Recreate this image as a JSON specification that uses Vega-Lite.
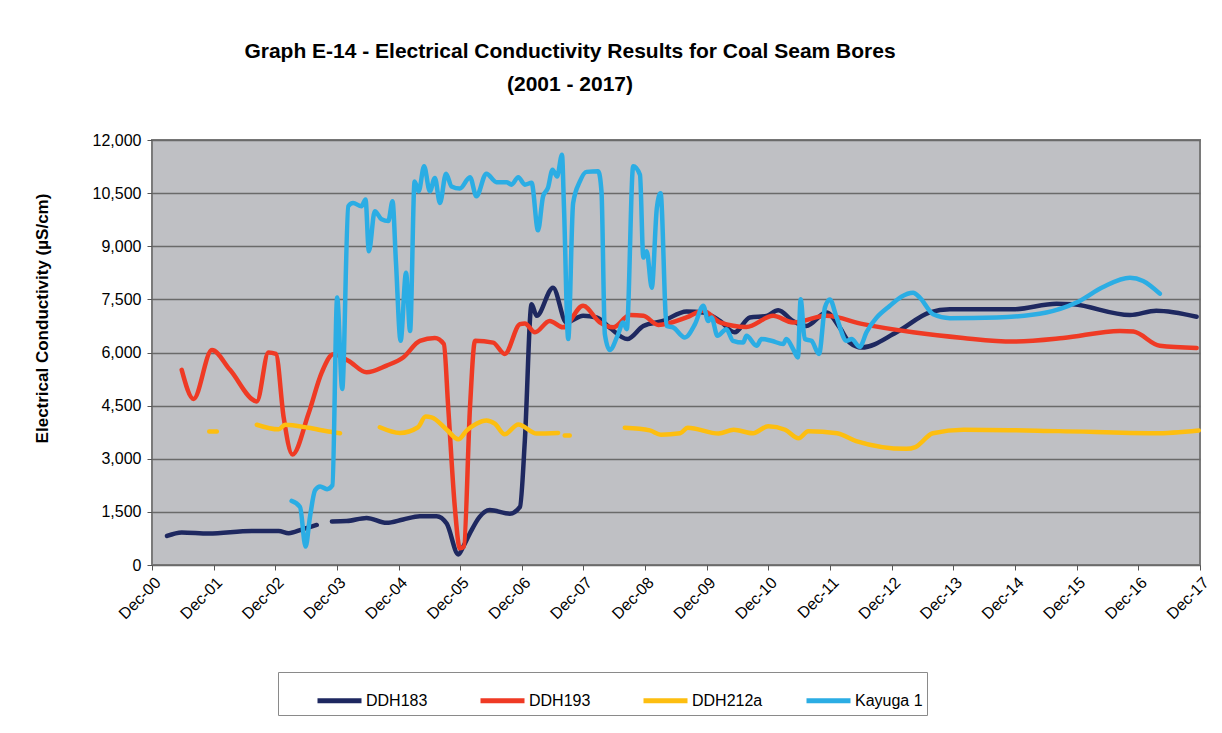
{
  "$schema": "https://vega.github.io/schema/vega-lite/v6.json",
  "autosize": {"type": "none"},
  "width": 1048,
  "height": 425,
  "padding": {"left": 152, "top": 140, "right": 22, "bottom": 168},
  "background": "white",
  "title": {
    "text": ["Graph E-14 -  Electrical Conductivity Results for Coal Seam Bores", "(2001 - 2017)"],
    "font": "Liberation Sans, Arial, sans-serif",
    "fontSize": 21,
    "fontWeight": "bold",
    "color": "#000000",
    "anchor": "middle",
    "dx": -106,
    "offset": 37,
    "lineHeight": 33
  },
  "config": {
    "view": {"fill": "#BFC0C4", "stroke": "#7a7a7a", "strokeWidth": 2},
    "font": "Liberation Sans, Arial, sans-serif"
  },
  "data": {"values": [
    {"bore": "DDH183", "date": "2001-02-28", "ec": 820},
    {"bore": "DDH183", "date": "2001-05-26", "ec": 920},
    {"bore": "DDH183", "date": "2001-11-02", "ec": 890},
    {"bore": "DDH183", "date": "2002-07-15", "ec": 960},
    {"bore": "DDH183", "date": "2002-12-21", "ec": 960},
    {"bore": "DDH183", "date": "2003-02-19", "ec": 900},
    {"bore": "DDH183", "date": "2003-05-07", "ec": 1000},
    {"bore": "DDH183", "date": "2003-08-04", "ec": 1130},
    {"bore": "DDH183", "date": "2003-09-20", "ec": null},
    {"bore": "DDH183", "date": "2003-11-02", "ec": 1230},
    {"bore": "DDH183", "date": "2004-01-28", "ec": 1240},
    {"bore": "DDH183", "date": "2004-05-25", "ec": 1330},
    {"bore": "DDH183", "date": "2004-09-21", "ec": 1190},
    {"bore": "DDH183", "date": "2004-12-28", "ec": 1285},
    {"bore": "DDH183", "date": "2005-04-06", "ec": 1380},
    {"bore": "DDH183", "date": "2005-07-14", "ec": 1380},
    {"bore": "DDH183", "date": "2005-09-12", "ec": 1170},
    {"bore": "DDH183", "date": "2005-11-20", "ec": 300},
    {"bore": "DDH183", "date": "2005-12-19", "ec": 520},
    {"bore": "DDH183", "date": "2006-01-28", "ec": 900},
    {"bore": "DDH183", "date": "2006-03-26", "ec": 1360},
    {"bore": "DDH183", "date": "2006-05-25", "ec": 1550},
    {"bore": "DDH183", "date": "2006-09-21", "ec": 1450},
    {"bore": "DDH183", "date": "2006-11-20", "ec": 1640},
    {"bore": "DDH183", "date": "2006-12-19", "ec": 3520},
    {"bore": "DDH183", "date": "2007-01-28", "ec": 7360},
    {"bore": "DDH183", "date": "2007-02-27", "ec": 7035},
    {"bore": "DDH183", "date": "2007-06-04", "ec": 7830},
    {"bore": "DDH183", "date": "2007-08-22", "ec": 6850},
    {"bore": "DDH183", "date": "2007-11-29", "ec": 7035},
    {"bore": "DDH183", "date": "2008-02-17", "ec": 6990},
    {"bore": "DDH183", "date": "2008-05-05", "ec": 6700},
    {"bore": "DDH183", "date": "2008-08-17", "ec": 6380},
    {"bore": "DDH183", "date": "2008-11-20", "ec": 6750},
    {"bore": "DDH183", "date": "2009-03-16", "ec": 6890},
    {"bore": "DDH183", "date": "2009-08-03", "ec": 7160},
    {"bore": "DDH183", "date": "2009-11-10", "ec": 7130},
    {"bore": "DDH183", "date": "2010-02-17", "ec": 6890},
    {"bore": "DDH183", "date": "2010-05-15", "ec": 6570},
    {"bore": "DDH183", "date": "2010-08-13", "ec": 6990},
    {"bore": "DDH183", "date": "2010-11-20", "ec": 7035},
    {"bore": "DDH183", "date": "2011-01-28", "ec": 7195},
    {"bore": "DDH183", "date": "2011-04-26", "ec": 6890},
    {"bore": "DDH183", "date": "2011-07-14", "ec": 6750},
    {"bore": "DDH183", "date": "2011-11-10", "ec": 7130},
    {"bore": "DDH183", "date": "2012-01-28", "ec": 6700},
    {"bore": "DDH183", "date": "2012-03-26", "ec": 6280},
    {"bore": "DDH183", "date": "2012-06-05", "ec": 6140},
    {"bore": "DDH183", "date": "2012-12-29", "ec": 6570},
    {"bore": "DDH183", "date": "2013-07-14", "ec": 7130},
    {"bore": "DDH183", "date": "2013-11-10", "ec": 7220},
    {"bore": "DDH183", "date": "2014-11-20", "ec": 7220},
    {"bore": "DDH183", "date": "2015-08-04", "ec": 7380},
    {"bore": "DDH183", "date": "2015-11-10", "ec": 7360},
    {"bore": "DDH183", "date": "2016-10-12", "ec": 7060},
    {"bore": "DDH183", "date": "2017-03-17", "ec": 7180},
    {"bore": "DDH183", "date": "2017-11-11", "ec": 7010},

    {"bore": "DDH193", "date": "2001-05-26", "ec": 5510},
    {"bore": "DDH193", "date": "2001-08-04", "ec": 4690},
    {"bore": "DDH193", "date": "2001-11-21", "ec": 6070},
    {"bore": "DDH193", "date": "2002-03-08", "ec": 5510},
    {"bore": "DDH193", "date": "2002-08-14", "ec": 4620},
    {"bore": "DDH193", "date": "2002-10-22", "ec": 6000},
    {"bore": "DDH193", "date": "2002-12-05", "ec": 5960},
    {"bore": "DDH193", "date": "2003-01-20", "ec": 4170},
    {"bore": "DDH193", "date": "2003-03-13", "ec": 3120},
    {"bore": "DDH193", "date": "2003-06-16", "ec": 4270},
    {"bore": "DDH193", "date": "2003-09-03", "ec": 5440},
    {"bore": "DDH193", "date": "2003-11-10", "ec": 5950},
    {"bore": "DDH193", "date": "2004-02-07", "ec": 5770},
    {"bore": "DDH193", "date": "2004-05-25", "ec": 5440},
    {"bore": "DDH193", "date": "2004-09-21", "ec": 5630},
    {"bore": "DDH193", "date": "2004-12-28", "ec": 5860},
    {"bore": "DDH193", "date": "2005-04-06", "ec": 6330},
    {"bore": "DDH193", "date": "2005-07-04", "ec": 6410},
    {"bore": "DDH193", "date": "2005-08-26", "ec": 6240},
    {"bore": "DDH193", "date": "2005-09-21", "ec": 4450},
    {"bore": "DDH193", "date": "2005-10-30", "ec": 1640},
    {"bore": "DDH193", "date": "2005-11-29", "ec": 470},
    {"bore": "DDH193", "date": "2005-12-23", "ec": 520},
    {"bore": "DDH193", "date": "2006-01-28", "ec": 4450},
    {"bore": "DDH193", "date": "2006-02-27", "ec": 6330},
    {"bore": "DDH193", "date": "2006-06-14", "ec": 6280},
    {"bore": "DDH193", "date": "2006-08-22", "ec": 5960},
    {"bore": "DDH193", "date": "2006-11-20", "ec": 6800},
    {"bore": "DDH193", "date": "2006-12-19", "ec": 6820},
    {"bore": "DDH193", "date": "2007-02-17", "ec": 6570},
    {"bore": "DDH193", "date": "2007-05-15", "ec": 6890},
    {"bore": "DDH193", "date": "2007-08-02", "ec": 6710},
    {"bore": "DDH193", "date": "2007-11-29", "ec": 7320},
    {"bore": "DDH193", "date": "2008-03-07", "ec": 6850},
    {"bore": "DDH193", "date": "2008-05-25", "ec": 6710},
    {"bore": "DDH193", "date": "2008-09-02", "ec": 7060},
    {"bore": "DDH193", "date": "2008-11-20", "ec": 7035},
    {"bore": "DDH193", "date": "2009-02-17", "ec": 6780},
    {"bore": "DDH193", "date": "2009-08-03", "ec": 6990},
    {"bore": "DDH193", "date": "2009-11-10", "ec": 7180},
    {"bore": "DDH193", "date": "2010-02-17", "ec": 6850},
    {"bore": "DDH193", "date": "2010-07-24", "ec": 6720},
    {"bore": "DDH193", "date": "2010-12-29", "ec": 7035},
    {"bore": "DDH193", "date": "2011-04-26", "ec": 6850},
    {"bore": "DDH193", "date": "2011-11-10", "ec": 7035},
    {"bore": "DDH193", "date": "2012-06-14", "ec": 6800},
    {"bore": "DDH193", "date": "2013-04-06", "ec": 6570},
    {"bore": "DDH193", "date": "2014-01-28", "ec": 6410},
    {"bore": "DDH193", "date": "2014-11-20", "ec": 6310},
    {"bore": "DDH193", "date": "2015-09-12", "ec": 6410},
    {"bore": "DDH193", "date": "2016-08-13", "ec": 6610},
    {"bore": "DDH193", "date": "2016-11-01", "ec": 6590},
    {"bore": "DDH193", "date": "2017-04-07", "ec": 6190},
    {"bore": "DDH193", "date": "2017-11-11", "ec": 6130},

    {"bore": "DDH212a", "date": "2001-11-05", "ec": 3770},
    {"bore": "DDH212a", "date": "2001-12-20", "ec": 3770},
    {"bore": "DDH212a", "date": "2002-04-01", "ec": null},
    {"bore": "DDH212a", "date": "2002-08-14", "ec": 3960},
    {"bore": "DDH212a", "date": "2002-12-21", "ec": 3830},
    {"bore": "DDH212a", "date": "2003-01-29", "ec": 3960},
    {"bore": "DDH212a", "date": "2003-06-16", "ec": 3875},
    {"bore": "DDH212a", "date": "2003-10-12", "ec": 3770},
    {"bore": "DDH212a", "date": "2003-12-20", "ec": 3720},
    {"bore": "DDH212a", "date": "2004-04-01", "ec": null},
    {"bore": "DDH212a", "date": "2004-08-12", "ec": 3890},
    {"bore": "DDH212a", "date": "2004-12-09", "ec": 3730},
    {"bore": "DDH212a", "date": "2005-03-26", "ec": 3890},
    {"bore": "DDH212a", "date": "2005-05-10", "ec": 4190},
    {"bore": "DDH212a", "date": "2005-06-14", "ec": 4170},
    {"bore": "DDH212a", "date": "2005-09-12", "ec": 3820},
    {"bore": "DDH212a", "date": "2005-11-20", "ec": 3550},
    {"bore": "DDH212a", "date": "2006-01-09", "ec": 3800},
    {"bore": "DDH212a", "date": "2006-03-07", "ec": 3990},
    {"bore": "DDH212a", "date": "2006-05-05", "ec": 4080},
    {"bore": "DDH212a", "date": "2006-06-24", "ec": 3990},
    {"bore": "DDH212a", "date": "2006-08-22", "ec": 3690},
    {"bore": "DDH212a", "date": "2006-11-10", "ec": 3970},
    {"bore": "DDH212a", "date": "2007-02-27", "ec": 3710},
    {"bore": "DDH212a", "date": "2007-07-04", "ec": 3730},
    {"bore": "DDH212a", "date": "2007-07-20", "ec": null},
    {"bore": "DDH212a", "date": "2007-08-12", "ec": 3660},
    {"bore": "DDH212a", "date": "2007-09-11", "ec": 3660},
    {"bore": "DDH212a", "date": "2008-01-01", "ec": null},
    {"bore": "DDH212a", "date": "2008-08-02", "ec": 3875},
    {"bore": "DDH212a", "date": "2008-12-28", "ec": 3800},
    {"bore": "DDH212a", "date": "2009-03-04", "ec": 3680},
    {"bore": "DDH212a", "date": "2009-06-26", "ec": 3720},
    {"bore": "DDH212a", "date": "2009-08-10", "ec": 3875},
    {"bore": "DDH212a", "date": "2010-02-09", "ec": 3710},
    {"bore": "DDH212a", "date": "2010-05-09", "ec": 3820},
    {"bore": "DDH212a", "date": "2010-09-01", "ec": 3720},
    {"bore": "DDH212a", "date": "2010-11-30", "ec": 3920},
    {"bore": "DDH212a", "date": "2011-03-10", "ec": 3820},
    {"bore": "DDH212a", "date": "2011-05-29", "ec": 3580},
    {"bore": "DDH212a", "date": "2011-07-25", "ec": 3780},
    {"bore": "DDH212a", "date": "2012-01-12", "ec": 3720},
    {"bore": "DDH212a", "date": "2012-05-04", "ec": 3500},
    {"bore": "DDH212a", "date": "2013-02-25", "ec": 3280},
    {"bore": "DDH212a", "date": "2013-04-20", "ec": 3330},
    {"bore": "DDH212a", "date": "2013-08-01", "ec": 3720},
    {"bore": "DDH212a", "date": "2014-01-30", "ec": 3820},
    {"bore": "DDH212a", "date": "2015-08-18", "ec": 3780},
    {"bore": "DDH212a", "date": "2017-03-07", "ec": 3720},
    {"bore": "DDH212a", "date": "2017-11-24", "ec": 3800},

    {"bore": "Kayuga 1", "date": "2003-03-08", "ec": 1810},
    {"bore": "Kayuga 1", "date": "2003-04-27", "ec": 1640},
    {"bore": "Kayuga 1", "date": "2003-05-30", "ec": 520},
    {"bore": "Kayuga 1", "date": "2003-06-25", "ec": 1360},
    {"bore": "Kayuga 1", "date": "2003-07-25", "ec": 2110},
    {"bore": "Kayuga 1", "date": "2003-08-24", "ec": 2220},
    {"bore": "Kayuga 1", "date": "2003-10-04", "ec": 2140},
    {"bore": "Kayuga 1", "date": "2003-11-05", "ec": 2250},
    {"bore": "Kayuga 1", "date": "2003-12-03", "ec": 7550},
    {"bore": "Kayuga 1", "date": "2004-01-02", "ec": 4970},
    {"bore": "Kayuga 1", "date": "2004-02-07", "ec": 10130},
    {"bore": "Kayuga 1", "date": "2004-03-06", "ec": 10220},
    {"bore": "Kayuga 1", "date": "2004-04-25", "ec": 10130},
    {"bore": "Kayuga 1", "date": "2004-05-19", "ec": 10320},
    {"bore": "Kayuga 1", "date": "2004-06-08", "ec": 8860},
    {"bore": "Kayuga 1", "date": "2004-07-13", "ec": 9990},
    {"bore": "Kayuga 1", "date": "2004-08-22", "ec": 9760},
    {"bore": "Kayuga 1", "date": "2004-10-01", "ec": 9710},
    {"bore": "Kayuga 1", "date": "2004-10-26", "ec": 10270},
    {"bore": "Kayuga 1", "date": "2004-11-15", "ec": 8580},
    {"bore": "Kayuga 1", "date": "2004-12-13", "ec": 6330},
    {"bore": "Kayuga 1", "date": "2005-01-14", "ec": 8250},
    {"bore": "Kayuga 1", "date": "2005-02-07", "ec": 6610},
    {"bore": "Kayuga 1", "date": "2005-03-06", "ec": 10830},
    {"bore": "Kayuga 1", "date": "2005-03-30", "ec": 10550},
    {"bore": "Kayuga 1", "date": "2005-05-01", "ec": 11260},
    {"bore": "Kayuga 1", "date": "2005-06-04", "ec": 10550},
    {"bore": "Kayuga 1", "date": "2005-07-04", "ec": 10930},
    {"bore": "Kayuga 1", "date": "2005-08-03", "ec": 10220},
    {"bore": "Kayuga 1", "date": "2005-09-08", "ec": 11050},
    {"bore": "Kayuga 1", "date": "2005-10-11", "ec": 10690},
    {"bore": "Kayuga 1", "date": "2005-11-29", "ec": 10630},
    {"bore": "Kayuga 1", "date": "2006-01-28", "ec": 10950},
    {"bore": "Kayuga 1", "date": "2006-03-07", "ec": 10410},
    {"bore": "Kayuga 1", "date": "2006-05-05", "ec": 11050},
    {"bore": "Kayuga 1", "date": "2006-07-04", "ec": 10810},
    {"bore": "Kayuga 1", "date": "2006-09-02", "ec": 10810},
    {"bore": "Kayuga 1", "date": "2006-10-01", "ec": 10740},
    {"bore": "Kayuga 1", "date": "2006-11-10", "ec": 10950},
    {"bore": "Kayuga 1", "date": "2006-12-19", "ec": 10740},
    {"bore": "Kayuga 1", "date": "2007-01-28", "ec": 10790},
    {"bore": "Kayuga 1", "date": "2007-03-07", "ec": 9450},
    {"bore": "Kayuga 1", "date": "2007-04-06", "ec": 10410},
    {"bore": "Kayuga 1", "date": "2007-05-05", "ec": 10650},
    {"bore": "Kayuga 1", "date": "2007-06-01", "ec": 11160},
    {"bore": "Kayuga 1", "date": "2007-06-28", "ec": 10970},
    {"bore": "Kayuga 1", "date": "2007-07-27", "ec": 11585},
    {"bore": "Kayuga 1", "date": "2007-08-08", "ec": 10080},
    {"bore": "Kayuga 1", "date": "2007-09-02", "ec": 6380},
    {"bore": "Kayuga 1", "date": "2007-10-01", "ec": 10220},
    {"bore": "Kayuga 1", "date": "2007-11-10", "ec": 10830},
    {"bore": "Kayuga 1", "date": "2007-12-19", "ec": 11100},
    {"bore": "Kayuga 1", "date": "2008-02-27", "ec": 11115},
    {"bore": "Kayuga 1", "date": "2008-03-17", "ec": 10550},
    {"bore": "Kayuga 1", "date": "2008-04-06", "ec": 6520},
    {"bore": "Kayuga 1", "date": "2008-05-05", "ec": 6070},
    {"bore": "Kayuga 1", "date": "2008-06-24", "ec": 6520},
    {"bore": "Kayuga 1", "date": "2008-07-23", "ec": 6850},
    {"bore": "Kayuga 1", "date": "2008-08-14", "ec": 6660},
    {"bore": "Kayuga 1", "date": "2008-09-21", "ec": 11260},
    {"bore": "Kayuga 1", "date": "2008-10-31", "ec": 11020},
    {"bore": "Kayuga 1", "date": "2008-11-20", "ec": 8680},
    {"bore": "Kayuga 1", "date": "2008-12-10", "ec": 8860},
    {"bore": "Kayuga 1", "date": "2009-01-09", "ec": 7830},
    {"bore": "Kayuga 1", "date": "2009-02-08", "ec": 10080},
    {"bore": "Kayuga 1", "date": "2009-03-02", "ec": 10500},
    {"bore": "Kayuga 1", "date": "2009-04-07", "ec": 6750},
    {"bore": "Kayuga 1", "date": "2009-05-15", "ec": 6710},
    {"bore": "Kayuga 1", "date": "2009-07-24", "ec": 6425},
    {"bore": "Kayuga 1", "date": "2009-09-22", "ec": 6800},
    {"bore": "Kayuga 1", "date": "2009-11-10", "ec": 7320},
    {"bore": "Kayuga 1", "date": "2009-12-09", "ec": 6890},
    {"bore": "Kayuga 1", "date": "2009-12-29", "ec": 6990},
    {"bore": "Kayuga 1", "date": "2010-02-02", "ec": 6470},
    {"bore": "Kayuga 1", "date": "2010-03-27", "ec": 6660},
    {"bore": "Kayuga 1", "date": "2010-05-05", "ec": 6330},
    {"bore": "Kayuga 1", "date": "2010-07-04", "ec": 6280},
    {"bore": "Kayuga 1", "date": "2010-07-24", "ec": 6470},
    {"bore": "Kayuga 1", "date": "2010-09-22", "ec": 6190},
    {"bore": "Kayuga 1", "date": "2010-10-21", "ec": 6380},
    {"bore": "Kayuga 1", "date": "2010-12-19", "ec": 6330},
    {"bore": "Kayuga 1", "date": "2011-02-27", "ec": 6240},
    {"bore": "Kayuga 1", "date": "2011-03-17", "ec": 6380},
    {"bore": "Kayuga 1", "date": "2011-04-26", "ec": 6100},
    {"bore": "Kayuga 1", "date": "2011-05-25", "ec": 5860},
    {"bore": "Kayuga 1", "date": "2011-06-10", "ec": 7500},
    {"bore": "Kayuga 1", "date": "2011-07-04", "ec": 6380},
    {"bore": "Kayuga 1", "date": "2011-08-13", "ec": 6330},
    {"bore": "Kayuga 1", "date": "2011-09-27", "ec": 5960},
    {"bore": "Kayuga 1", "date": "2011-11-01", "ec": 7270},
    {"bore": "Kayuga 1", "date": "2011-11-30", "ec": 7500},
    {"bore": "Kayuga 1", "date": "2012-01-09", "ec": 6990},
    {"bore": "Kayuga 1", "date": "2012-03-08", "ec": 6330},
    {"bore": "Kayuga 1", "date": "2012-04-07", "ec": 6380},
    {"bore": "Kayuga 1", "date": "2012-05-25", "ec": 6160},
    {"bore": "Kayuga 1", "date": "2012-07-04", "ec": 6570},
    {"bore": "Kayuga 1", "date": "2012-11-20", "ec": 7320},
    {"bore": "Kayuga 1", "date": "2013-04-06", "ec": 7690},
    {"bore": "Kayuga 1", "date": "2013-05-16", "ec": 7550},
    {"bore": "Kayuga 1", "date": "2013-08-03", "ec": 7080},
    {"bore": "Kayuga 1", "date": "2013-11-10", "ec": 6970},
    {"bore": "Kayuga 1", "date": "2014-08-14", "ec": 6990},
    {"bore": "Kayuga 1", "date": "2015-06-05", "ec": 7130},
    {"bore": "Kayuga 1", "date": "2015-11-30", "ec": 7410},
    {"bore": "Kayuga 1", "date": "2016-05-06", "ec": 7850},
    {"bore": "Kayuga 1", "date": "2016-10-12", "ec": 8110},
    {"bore": "Kayuga 1", "date": "2016-12-29", "ec": 8020},
    {"bore": "Kayuga 1", "date": "2017-04-07", "ec": 7660}
  ]},
  "mark": {"type": "line", "strokeWidth": 4.5, "interpolate": "monotone", "invalid": "break-paths-show-domains", "strokeCap": "round", "strokeJoin": "round"},
  "encoding": {
    "x": {
      "field": "date",
      "type": "temporal",
      "scale": {"domain": ["2000-12-01", "2017-12-01"]},
      "axis": {
        "title": null,
        "values": ["2000-12-01", "2001-12-01", "2002-12-01", "2003-12-01", "2004-12-01", "2005-12-01", "2006-12-01", "2007-12-01", "2008-12-01", "2009-12-01", "2010-12-01", "2011-12-01", "2012-12-01", "2013-12-01", "2014-12-01", "2015-12-01", "2016-12-01", "2017-12-01"],
        "format": "%b-%y",
        "labelAngle": -45,
        "labelFontSize": 16,
        "labelColor": "#000000",
        "labelPadding": 4,
        "domain": false,
        "grid": false,
        "tickColor": "#555555",
        "tickSize": 5,
        "labelOverlap": false,
        "labelBound": false,
        "labelFlush": false
      }
    },
    "y": {
      "field": "ec",
      "type": "quantitative",
      "scale": {"domain": [0, 12000], "nice": false},
      "axis": {
        "title": "Electrical Conductivity (µS/cm)",
        "titleFontSize": 17,
        "titleFontWeight": "bold",
        "titleColor": "#000000",
        "titleX": -110,
        "titleY": 178,
        "titleAngle": -90,
        "titleAlign": "center",
        "titleBaseline": "middle",
        "values": [0, 1500, 3000, 4500, 6000, 7500, 9000, 10500, 12000],
        "format": ",.0f",
        "labelFontSize": 16,
        "labelColor": "#000000",
        "labelPadding": 6,
        "domain": false,
        "grid": true,
        "gridColor": "#6a6a6a",
        "gridWidth": 1.5,
        "gridOpacity": 1,
        "tickColor": "#555555",
        "tickSize": 5
      }
    },
    "color": {
      "field": "bore",
      "type": "nominal",
      "scale": {"domain": ["DDH183", "DDH193", "DDH212a", "Kayuga 1"], "range": ["#1E2860", "#EF3A24", "#FDBE10", "#2BADE4"]},
      "legend": {
        "title": null,
        "orient": "none",
        "legendX": 126,
        "legendY": 532,
        "direction": "horizontal",
        "columns": 4,
        "gridAlign": "all",
        "symbolType": "stroke",
        "symbolSize": 1936,
        "symbolStrokeWidth": 5,
        "symbolOffset": 33,
        "labelOffset": 2,
        "labelFontSize": 16,
        "labelColor": "#000000",
        "columnPadding": 8,
        "padding": 4,
        "strokeColor": "#8a8a8a",
        "fillColor": "#ffffff"
      }
    }
  }
}
